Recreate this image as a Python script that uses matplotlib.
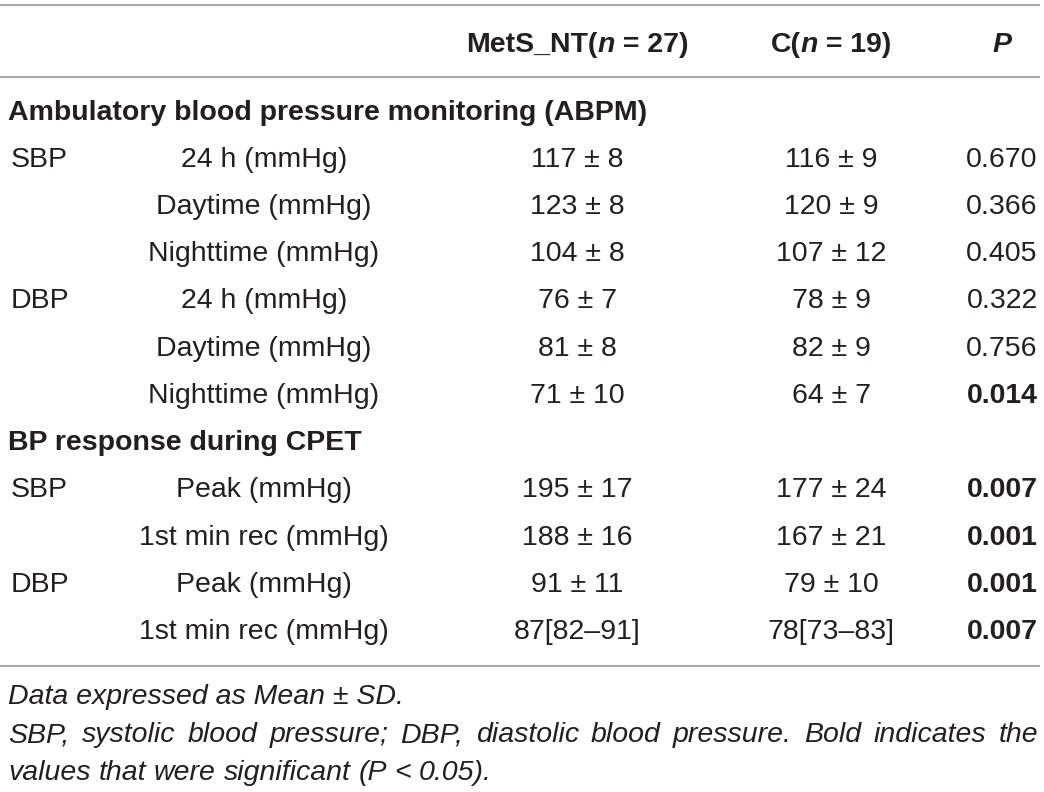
import matplotlib
matplotlib.use("Agg")
import matplotlib.pyplot as plt

# ---- data ----
sections = ["Ambulatory blood pressure monitoring (ABPM)", "BP response during CPET"]
groups = ["SBP", "", "", "DBP", "", "", "SBP", "", "DBP", ""]
params = ["24 h (mmHg)", "Daytime (mmHg)", "Nighttime (mmHg)",
          "24 h (mmHg)", "Daytime (mmHg)", "Nighttime (mmHg)",
          "Peak (mmHg)", "1st min rec (mmHg)", "Peak (mmHg)", "1st min rec (mmHg)"]
mets_nt = ["117 ± 8", "123 ± 8", "104 ± 8", "76 ± 7", "81 ± 8", "71 ± 10",
           "195 ± 17", "188 ± 16", "91 ± 11", "87[82–91]"]
control = ["116 ± 9", "120 ± 9", "107 ± 12", "78 ± 9", "82 ± 9", "64 ± 7",
           "177 ± 24", "167 ± 21", "79 ± 10", "78[73–83]"]
p_values = ["0.670", "0.366", "0.405", "0.322", "0.756", "0.014",
            "0.007", "0.001", "0.001", "0.007"]
significant = [False, False, False, False, False, True, True, True, True, True]
footnote1 = "Data expressed as Mean ± SD."
footnote2 = ("SBP, systolic blood pressure; DBP, diastolic blood pressure. "
             "Bold indicates the values that were significant (P < 0.05).")

# ---- layout ----
W, H = 1044, 792
FONT = "Liberation Sans"
FS = 20.5
TC = "#231f20"
LC = "#a8a8a8"

fig = plt.figure(figsize=(W / 100, H / 100), dpi=100)
ax = fig.add_axes([0, 0, 1, 1])
ax.set_xlim(0, W)
ax.set_ylim(H, 0)
ax.axis("off")
fig.canvas.draw()
renderer = fig.canvas.get_renderer()


def width_of(t):
    return t.get_window_extent(renderer=renderer).width


def txt(x, y, s, ha="left", weight="normal", style="normal", size=FS):
    return ax.text(x, y, s, ha=ha, va="center", fontsize=size, family=FONT,
                   fontweight=weight, fontstyle=style, color=TC)


def runs(x, y, parts, ha="center"):
    objs = [txt(0, y, s, weight=w, style=st) for s, w, st in parts]
    ws = [width_of(o) for o in objs]
    total = sum(ws)
    start = x - total / 2 if ha == "center" else (x - total if ha == "right" else x)
    cur = start
    for o, w in zip(objs, ws):
        o.set_x(cur)
        cur += w


# rules
for yl in (5, 77, 666):
    ax.plot([0, 1040], [yl, yl], color=LC, lw=1.5, solid_capstyle="butt")

X_GROUP, X_PARAM, X_METS, X_CTRL, X_P = 8, 264, 577, 831, 1002

# header
y_head = 45
runs(X_METS, y_head, [("MetS_NT(", "bold", "normal"), ("n", "bold", "italic"),
                      (" = 27)", "bold", "normal")])
runs(X_CTRL, y_head, [("C(", "bold", "normal"), ("n", "bold", "italic"),
                      (" = 19)", "bold", "normal")])
txt(1002, y_head, "P", ha="center", weight="bold", style="italic")

# body
row_y = [160, 207, 254, 301, 349, 396, 490, 538, 585, 632]
section_y = [113, 443]
for s, sy in zip(sections, section_y):
    txt(X_GROUP, sy, s, weight="bold")

for i in range(len(params)):
    y = row_y[i]
    if groups[i]:
        txt(X_GROUP + 3, y, groups[i])
    txt(X_PARAM, y, params[i], ha="center")
    txt(X_METS, y, mets_nt[i], ha="center")
    txt(X_CTRL, y, control[i], ha="center")
    txt(X_P, y, p_values[i], ha="center", weight="bold" if significant[i] else "normal")

# footnotes (italic, second paragraph justified)
txt(X_GROUP, 697, footnote1, style="italic")
words = footnote2.split(" ")
objs = [txt(0, 735, w, style="italic") for w in words]
ws = [width_of(o) for o in objs]
m1 = txt(0, 735, "a b", style="italic")
m2 = txt(0, 735, "ab", style="italic")
space = width_of(m1) - width_of(m2)
m1.remove()
m2.remove()
maxw = 1038 - X_GROUP
lines = [[]]
cur = 0
for o, w in zip(objs, ws):
    need = w if not lines[-1] else cur + space + w
    if lines[-1] and need > maxw:
        lines.append([(o, w)])
        cur = w
    else:
        lines[-1].append((o, w))
        cur = need
for li, line in enumerate(lines):
    y = 735 + li * 38
    for o, _ in line:
        o.set_y(y)
    if li < len(lines) - 1 and len(line) > 1:
        gap = (maxw - sum(w for _, w in line)) / (len(line) - 1)
    else:
        gap = space
    x = X_GROUP
    for o, w in line:
        o.set_x(x)
        x += w + gap

fig.savefig("out.png", dpi=100)
